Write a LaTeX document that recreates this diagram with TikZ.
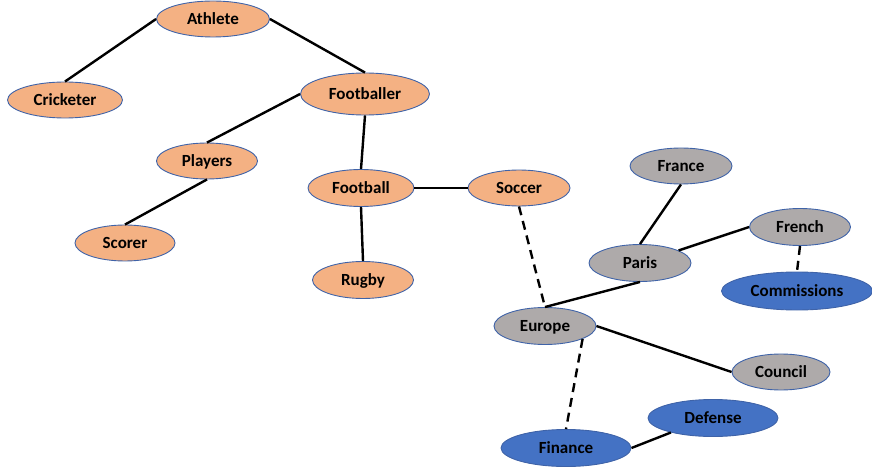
\documentclass[tikz,border=0pt]{standalone}
\usepackage{fontspec}
\setmainfont{Carlito}
\usetikzlibrary{shapes.geometric}
\definecolor{orangefill}{HTML}{F4B183}
\definecolor{grayfill}{HTML}{AEAAAA}
\definecolor{bluefill}{HTML}{4472C4}
\definecolor{edgeblue}{HTML}{3F63A8}
\tikzset{
  bub/.style={ellipse, draw=edgeblue, line width=0.9pt, inner sep=0pt,
    text height=11pt, text depth=0pt,
    font=\fontsize{17}{19}\selectfont\bfseries, text=black},
  org/.style={bub, fill=orangefill},
  gry/.style={bub, fill=grayfill},
  blu/.style={bub, fill=bluefill},
  link/.style={line width=2.4pt, black},
  dlink/.style={link, dash pattern=on 9pt off 6pt},
}
\begin{document}
\begin{tikzpicture}[x=1pt,y=-1pt]
\useasboundingbox (0,0) rectangle (872,470);
\begin{scope}
\clip (0,0) rectangle (872,470);
\node[org, minimum width=113pt, minimum height=36pt] (athlete) at (213,19) {Athlete};
\node[org, minimum width=115pt, minimum height=36pt] (cricketer) at (65,100) {Cricketer};
\node[org, minimum width=129pt, minimum height=42pt] (footballer) at (365,94) {Footballer};
\node[org, minimum width=101pt, minimum height=36pt] (players) at (207,161) {Players};
\node[org, minimum width=100pt, minimum height=36pt] (scorer) at (125,243) {Scorer};
\node[org, minimum width=106pt, minimum height=37pt] (football) at (361,188) {Football};
\node[org, minimum width=102pt, minimum height=36pt] (soccer) at (519,188) {Soccer};
\node[org, minimum width=101pt, minimum height=37pt] (rugby) at (363,280) {Rugby};
\node[gry, minimum width=102pt, minimum height=36pt] (france) at (681,166) {France};
\node[gry, minimum width=102pt, minimum height=37pt] (paris) at (640,263) {Paris};
\node[gry, minimum width=101pt, minimum height=37pt] (french) at (800,227) {French};
\node[blu, minimum width=151pt, minimum height=38pt] (commissions) at (797,291) {Commissions};
\node[gry, minimum width=102pt, minimum height=37pt] (europe) at (545,326) {Europe};
\node[gry, minimum width=98pt, minimum height=36pt] (council) at (781,372) {Council};
\node[blu, minimum width=130pt, minimum height=37pt] (defense) at (713,418) {Defense};
\node[blu, minimum width=130pt, minimum height=37pt] (finance) at (566,448) {Finance};
\end{scope}
\draw[link] (athlete.west) -- (cricketer.north);
\draw[link] (athlete.east) -- (footballer.north);
\draw[link] (footballer.west) -- (players.north);
\draw[link] (footballer.south) -- (football.north);
\draw[link] (players.south) -- (scorer.north);
\draw[link] (football.south) -- (rugby.north);
\draw[link] (football.east) -- (soccer.west);
\draw[dlink] (soccer.south) -- (europe.north);
\draw[link] (europe.north) -- (paris.south);
\draw[link] (paris.north) -- (france.south);
\draw[link] (paris.18) -- (french.west);
\draw[dlink] (french.south) -- (commissions.north);
\draw[link] (europe.east) -- (council.west);
\draw[dlink] (europe.-19) -- (finance.north);
\draw[link] (finance.east) -- (defense.-161);
\end{tikzpicture}
\end{document}
